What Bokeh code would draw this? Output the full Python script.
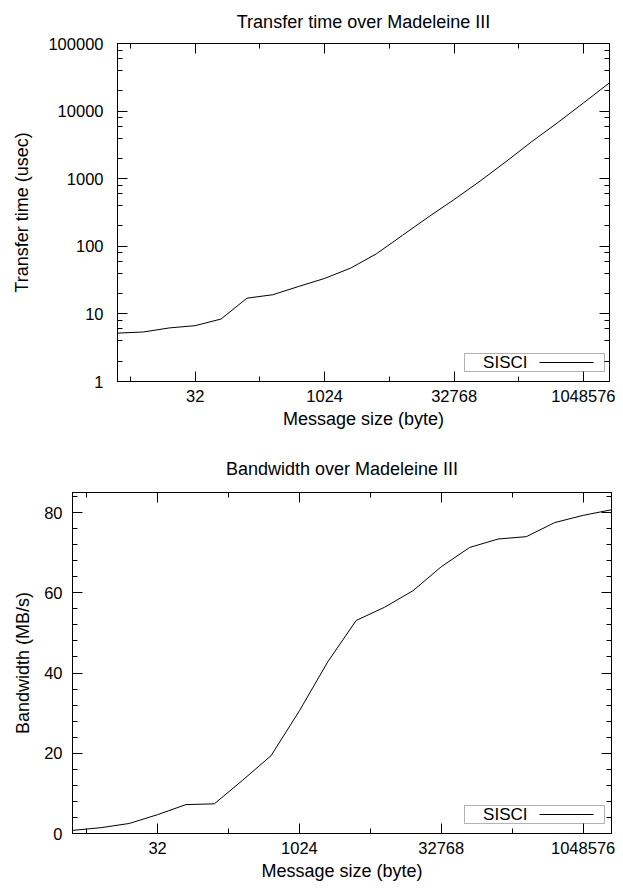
from bokeh.plotting import figure
from bokeh.models import (Range1d, FixedTicker, NumeralTickFormatter, LogAxis, LinearAxis,
                          BoxAnnotation, Label, Arrow, CustomLabelingPolicy)
from bokeh.embed import file_html
from bokeh.resources import INLINE

# ---------------- data ----------------
sizes = [4, 8, 16, 32, 64, 128, 256, 512, 1024, 2048, 4096, 8192, 16384, 32768,
         65536, 131072, 262144, 524288, 1048576, 2097152]
transfer_time = [5.2, 5.4, 6.2, 6.7, 8.4, 17.1, 19.2, 25.5, 33.5, 47.5, 77.5, 145, 270,
                 492, 920, 1785, 3540, 6760, 13250, 26200]
bandwidth = [0.77, 1.45, 2.5, 4.7, 7.2, 7.4, 13.3, 19.4, 30.6, 42.8, 53.1, 56.4, 60.5,
             66.5, 71.3, 73.4, 74.0, 77.5, 79.3, 80.7]

series_name = "SISCI"
x_ticks = [32, 1024, 32768, 1048576]
x_minor_ticks = [2 ** 2.5, 2 ** 7.5, 2 ** 12.5, 2 ** 17.5]
time_ticks = [1, 10, 100, 1000, 10000, 100000]
time_minor_ticks = [m * 10 ** e for e in range(0, 5) for m in (2, 4, 6, 8)]
bw_ticks = [0, 20, 40, 60, 80]
bw_minor_ticks = [v for v in range(4, 85, 4) if v % 20 != 0]

FONT = "Liberation Sans"
TICK_FS = "16.5px"
LABEL_FS = "18px"
KEY_FS = "17px"

NO_LABELS = CustomLabelingPolicy(code="""
    const n = indices.size
    for (let i = 0; i < n; i++) indices.unset(i)
    return indices
""")


def style_axis(ax, labels=True, label_standoff=8, title_standoff=4):
    ax.axis_line_color = "black"
    ax.axis_line_width = 1
    ax.major_tick_line_color = "black"
    ax.minor_tick_line_color = "black"
    ax.major_tick_line_width = 1
    ax.minor_tick_line_width = 1
    ax.major_tick_in = 10
    ax.major_tick_out = 0
    ax.minor_tick_in = 5
    ax.minor_tick_out = 0
    ax.major_label_text_font = FONT
    ax.major_label_text_color = "black"
    ax.axis_label_text_font = FONT
    ax.axis_label_text_font_size = LABEL_FS
    ax.axis_label_text_font_style = "normal"
    ax.axis_label_text_color = "black"
    ax.formatter = NumeralTickFormatter(format="0")
    if labels:
        ax.major_label_text_font_size = TICK_FS
        ax.major_label_standoff = label_standoff
        ax.axis_label_standoff = title_standoff
    else:
        ax.major_label_text_font_size = "1px"
        ax.major_label_policy = NO_LABELS
        ax.major_label_standoff = 0
        ax.axis_label_standoff = 0


def make_fig(title, w, h, left, top, bottom, title_gap, ylog, yrange, yt, ymt, ylabel,
             ys_lab, ys_title, yvals):
    p = figure(width=w, height=h,
               x_axis_type="log", y_axis_type="log" if ylog else "linear",
               x_range=Range1d(sizes[0], sizes[-1]), y_range=Range1d(*yrange),
               output_backend="svg", toolbar_location=None,
               min_border_left=left, min_border_right=2,
               min_border_top=top, min_border_bottom=bottom,
               title=title)
    p.background_fill_color = "white"
    p.border_fill_color = "white"
    p.outline_line_color = "black"
    p.grid.visible = False
    p.title.align = "center"
    p.title.text_font = FONT
    p.title.text_font_size = LABEL_FS
    p.title.text_font_style = "normal"
    p.title.text_color = "black"
    p.title.standoff = title_gap

    xa = p.xaxis[0]
    xa.ticker = FixedTicker(ticks=x_ticks, minor_ticks=x_minor_ticks)
    xa.axis_label = "Message size (byte)"
    style_axis(xa, True, 8, 4)

    ya = p.yaxis[0]
    ya.ticker = FixedTicker(ticks=yt, minor_ticks=ymt)
    ya.axis_label = ylabel
    style_axis(ya, True, ys_lab, ys_title)

    top_ax = LogAxis(ticker=FixedTicker(ticks=x_ticks, minor_ticks=x_minor_ticks))
    style_axis(top_ax, labels=False)
    p.add_layout(top_ax, "above")
    right_ax = (LogAxis if ylog else LinearAxis)(ticker=FixedTicker(ticks=yt, minor_ticks=ymt))
    style_axis(right_ax, labels=False)
    p.add_layout(right_ax, "right")

    p.line(sizes, yvals, line_color="black", line_width=1)
    return p


# page coordinates: top plot frame x 117-613, y 43-381; bottom plot frame x 72-613, y 492-833
p1 = make_fig("Transfer time over Madeleine III", 615, 446, 117, 43, 65, 16, True,
              (1, 100000), time_ticks, time_minor_ticks, "Transfer time (usec)", 14, 13,
              transfer_time)
p2 = make_fig("Bandwidth over Madeleine III", 615, 440, 72, 46, 53, 19, False,
              (0, 85), bw_ticks, bw_minor_ticks, "Bandwidth (MB/s)", 10, 8,
              bandwidth)


def add_key(p, box_left, box_bottom):
    w, h = 140, 18
    p.add_layout(BoxAnnotation(left=box_left, right=box_left + w, bottom=box_bottom,
                               top=box_bottom + h, left_units="screen", right_units="screen",
                               bottom_units="screen", top_units="screen",
                               fill_color=None, fill_alpha=0, line_color="black", line_width=1))
    p.add_layout(Label(x=box_left + 63, y=box_bottom + h / 2, x_units="screen", y_units="screen",
                       text=series_name, text_align="right", text_baseline="middle",
                       text_font=FONT, text_font_size=KEY_FS, text_color="black"))
    p.add_layout(Arrow(x_start=box_left + 75, y_start=box_bottom + h / 2,
                       x_end=box_left + 129, y_end=box_bottom + h / 2,
                       start_units="screen", end_units="screen", start=None, end=None,
                       line_color="black", line_width=1))


add_key(p1, 347, 10)
add_key(p2, 392, 10)

open("out.html", "w").write(file_html([p1, p2], INLINE))
